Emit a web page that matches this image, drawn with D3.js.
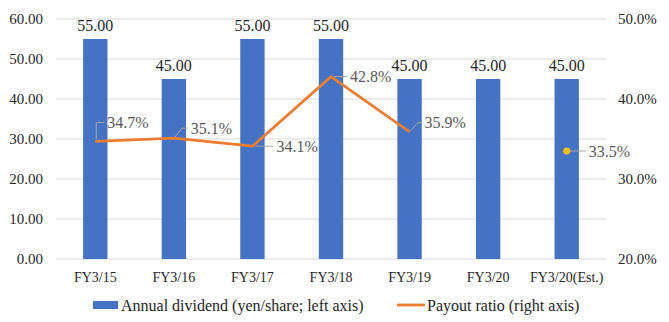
<!DOCTYPE html>
<html><head><meta charset="utf-8">
<script src="https://cdn.jsdelivr.net/npm/d3@7"></script>
<style>body{margin:0;background:#fff}svg{display:block}text{font-family:"Liberation Serif"}</style>
</head><body><svg id="c" width="669" height="322"></svg>
<script>
const categories = ["FY3/15","FY3/16","FY3/17","FY3/18","FY3/19","FY3/20","FY3/20(Est.)"];
const dividend = [55, 45, 55, 55, 45, 45, 45];
const payoutActual = [34.7, 35.1, 34.1, 42.8, 35.9, null, null];
const payoutEstimate = [null, null, null, null, null, null, 33.5];
const leftTicks = [0, 10, 20, 30, 40, 50, 60];
const rightTicks = [20, 30, 40, 50];
const legendLabels = ["Annual dividend (yen/share; left axis)", "Payout ratio (right axis)"];

const FF = '"Liberation Serif"';
const svg = d3.select("#c");
const L = 56, R = 606, T = 19, B = 259;
const x = d3.scaleBand().domain(categories).range([L, R]).paddingInner(0.69).paddingOuter(0.345);
const yL = d3.scaleLinear().domain([0, 60]).range([B, T]);
const yR = d3.scaleLinear().domain([20, 50]).range([B, T]);
const cx = c => x(c) + x.bandwidth() / 2;

// gridlines
svg.append("g").selectAll("line").data(leftTicks).join("line")
  .attr("x1", L).attr("x2", R).attr("y1", d => yL(d)).attr("y2", d => yL(d))
  .attr("stroke", "#d9d9d9").attr("stroke-width", 1);

// left axis
const axL = d3.axisLeft(yL).tickValues(leftTicks).tickFormat(d3.format(".2f")).tickSize(0).tickPadding(13);
svg.append("g").attr("transform", `translate(${L},0)`).call(axL)
  .call(g => g.select(".domain").remove())
  .selectAll("text").attr("font-size", 15).attr("fill", "#262626").style("font-family", FF);
// right axis
const axR = d3.axisRight(yR).tickValues(rightTicks).tickFormat(d => d.toFixed(1) + "%").tickSize(0).tickPadding(12);
svg.append("g").attr("transform", `translate(${R},0)`).call(axR)
  .call(g => g.select(".domain").remove())
  .selectAll("text").attr("font-size", 15).attr("fill", "#262626").style("font-family", FF);
// bottom axis
const axB = d3.axisBottom(x).tickSize(0).tickPadding(13);
svg.append("g").attr("transform", `translate(0,${B})`).call(axB)
  .call(g => g.select(".domain").remove())
  .selectAll("text").attr("font-size", 14).attr("fill", "#262626").style("font-family", FF);

// bars
svg.append("g").selectAll("rect").data(dividend).join("rect")
  .attr("x", (d, i) => x(categories[i])).attr("width", x.bandwidth())
  .attr("y", d => yL(d)).attr("height", d => B - yL(d))
  .attr("fill", "#4472C4");
svg.append("g").selectAll("text").data(dividend).join("text")
  .attr("x", (d, i) => cx(categories[i])).attr("y", d => yL(d) - 8)
  .attr("text-anchor", "middle").attr("font-size", 16).attr("fill", "#262626").style("font-family", FF)
  .text(d => d.toFixed(2));

// line
const pts = payoutActual.map((v, i) => ({c: categories[i], v})).filter(d => d.v != null);
svg.append("path").datum(pts)
  .attr("d", d3.line().x(d => cx(d.c)).y(d => yR(d.v)))
  .attr("fill", "none").attr("stroke", "#ED7D31").attr("stroke-width", 2.75).attr("stroke-linejoin", "round");
const est = payoutEstimate.map((v, i) => ({c: categories[i], v})).filter(d => d.v != null);
svg.append("g").selectAll("circle").data(est).join("circle")
  .attr("cx", d => cx(d.c)).attr("cy", d => yR(d.v)).attr("r", 3.5).attr("fill", "#FFC000");

// percentage labels with leader lines (offsets relative to point)
const offs = [[12, -19, "v"], [17, -10, "d"], [24, 1, "h"], [19, 1, "h"], [15, -9, "d"], null, [22, 2, "h"]];
const allPct = payoutActual.map((v, i) => v != null ? v : payoutEstimate[i]);
const lg = svg.append("g");
allPct.forEach((v, i) => {
  if (v == null) return;
  const px = cx(categories[i]), py = yR(v);
  const [dx, dy, kind] = offs[i];
  const tx = px + dx, ty = py + dy;
  let path;
  if (kind === "v") path = `M${px + 1},${py - 2}L${px + 1},${ty}L${tx - 3},${ty}`;
  else if (kind === "d") path = `M${px + 1},${py - 1}L${px + 8},${ty}L${tx - 3},${ty}`;
  else path = `M${px + 3},${py}L${tx - 3},${py}`;
  lg.append("path").attr("d", path).attr("fill", "none").attr("stroke", "#a6a6a6").attr("stroke-width", 1);
  lg.append("text").attr("x", tx).attr("y", (kind === "h" ? py : ty) + 5.5)
    .attr("font-size", 16).attr("fill", "#595959").style("font-family", FF).text(v.toFixed(1) + "%");
});

// legend
const leg = svg.append("g");
leg.append("rect").attr("x", 93).attr("y", 301).attr("width", 25).attr("height", 8).attr("fill", "#4472C4");
leg.append("text").attr("x", 121).attr("y", 310.5).attr("font-size", 16).attr("fill", "#262626").style("font-family", FF).text(legendLabels[0]);
leg.append("line").attr("x1", 397).attr("x2", 425).attr("y1", 305).attr("y2", 305).attr("stroke", "#ED7D31").attr("stroke-width", 2.75);
leg.append("text").attr("x", 427).attr("y", 310.5).attr("font-size", 16).attr("fill", "#262626").style("font-family", FF).text(legendLabels[1]);
</script></body></html>
